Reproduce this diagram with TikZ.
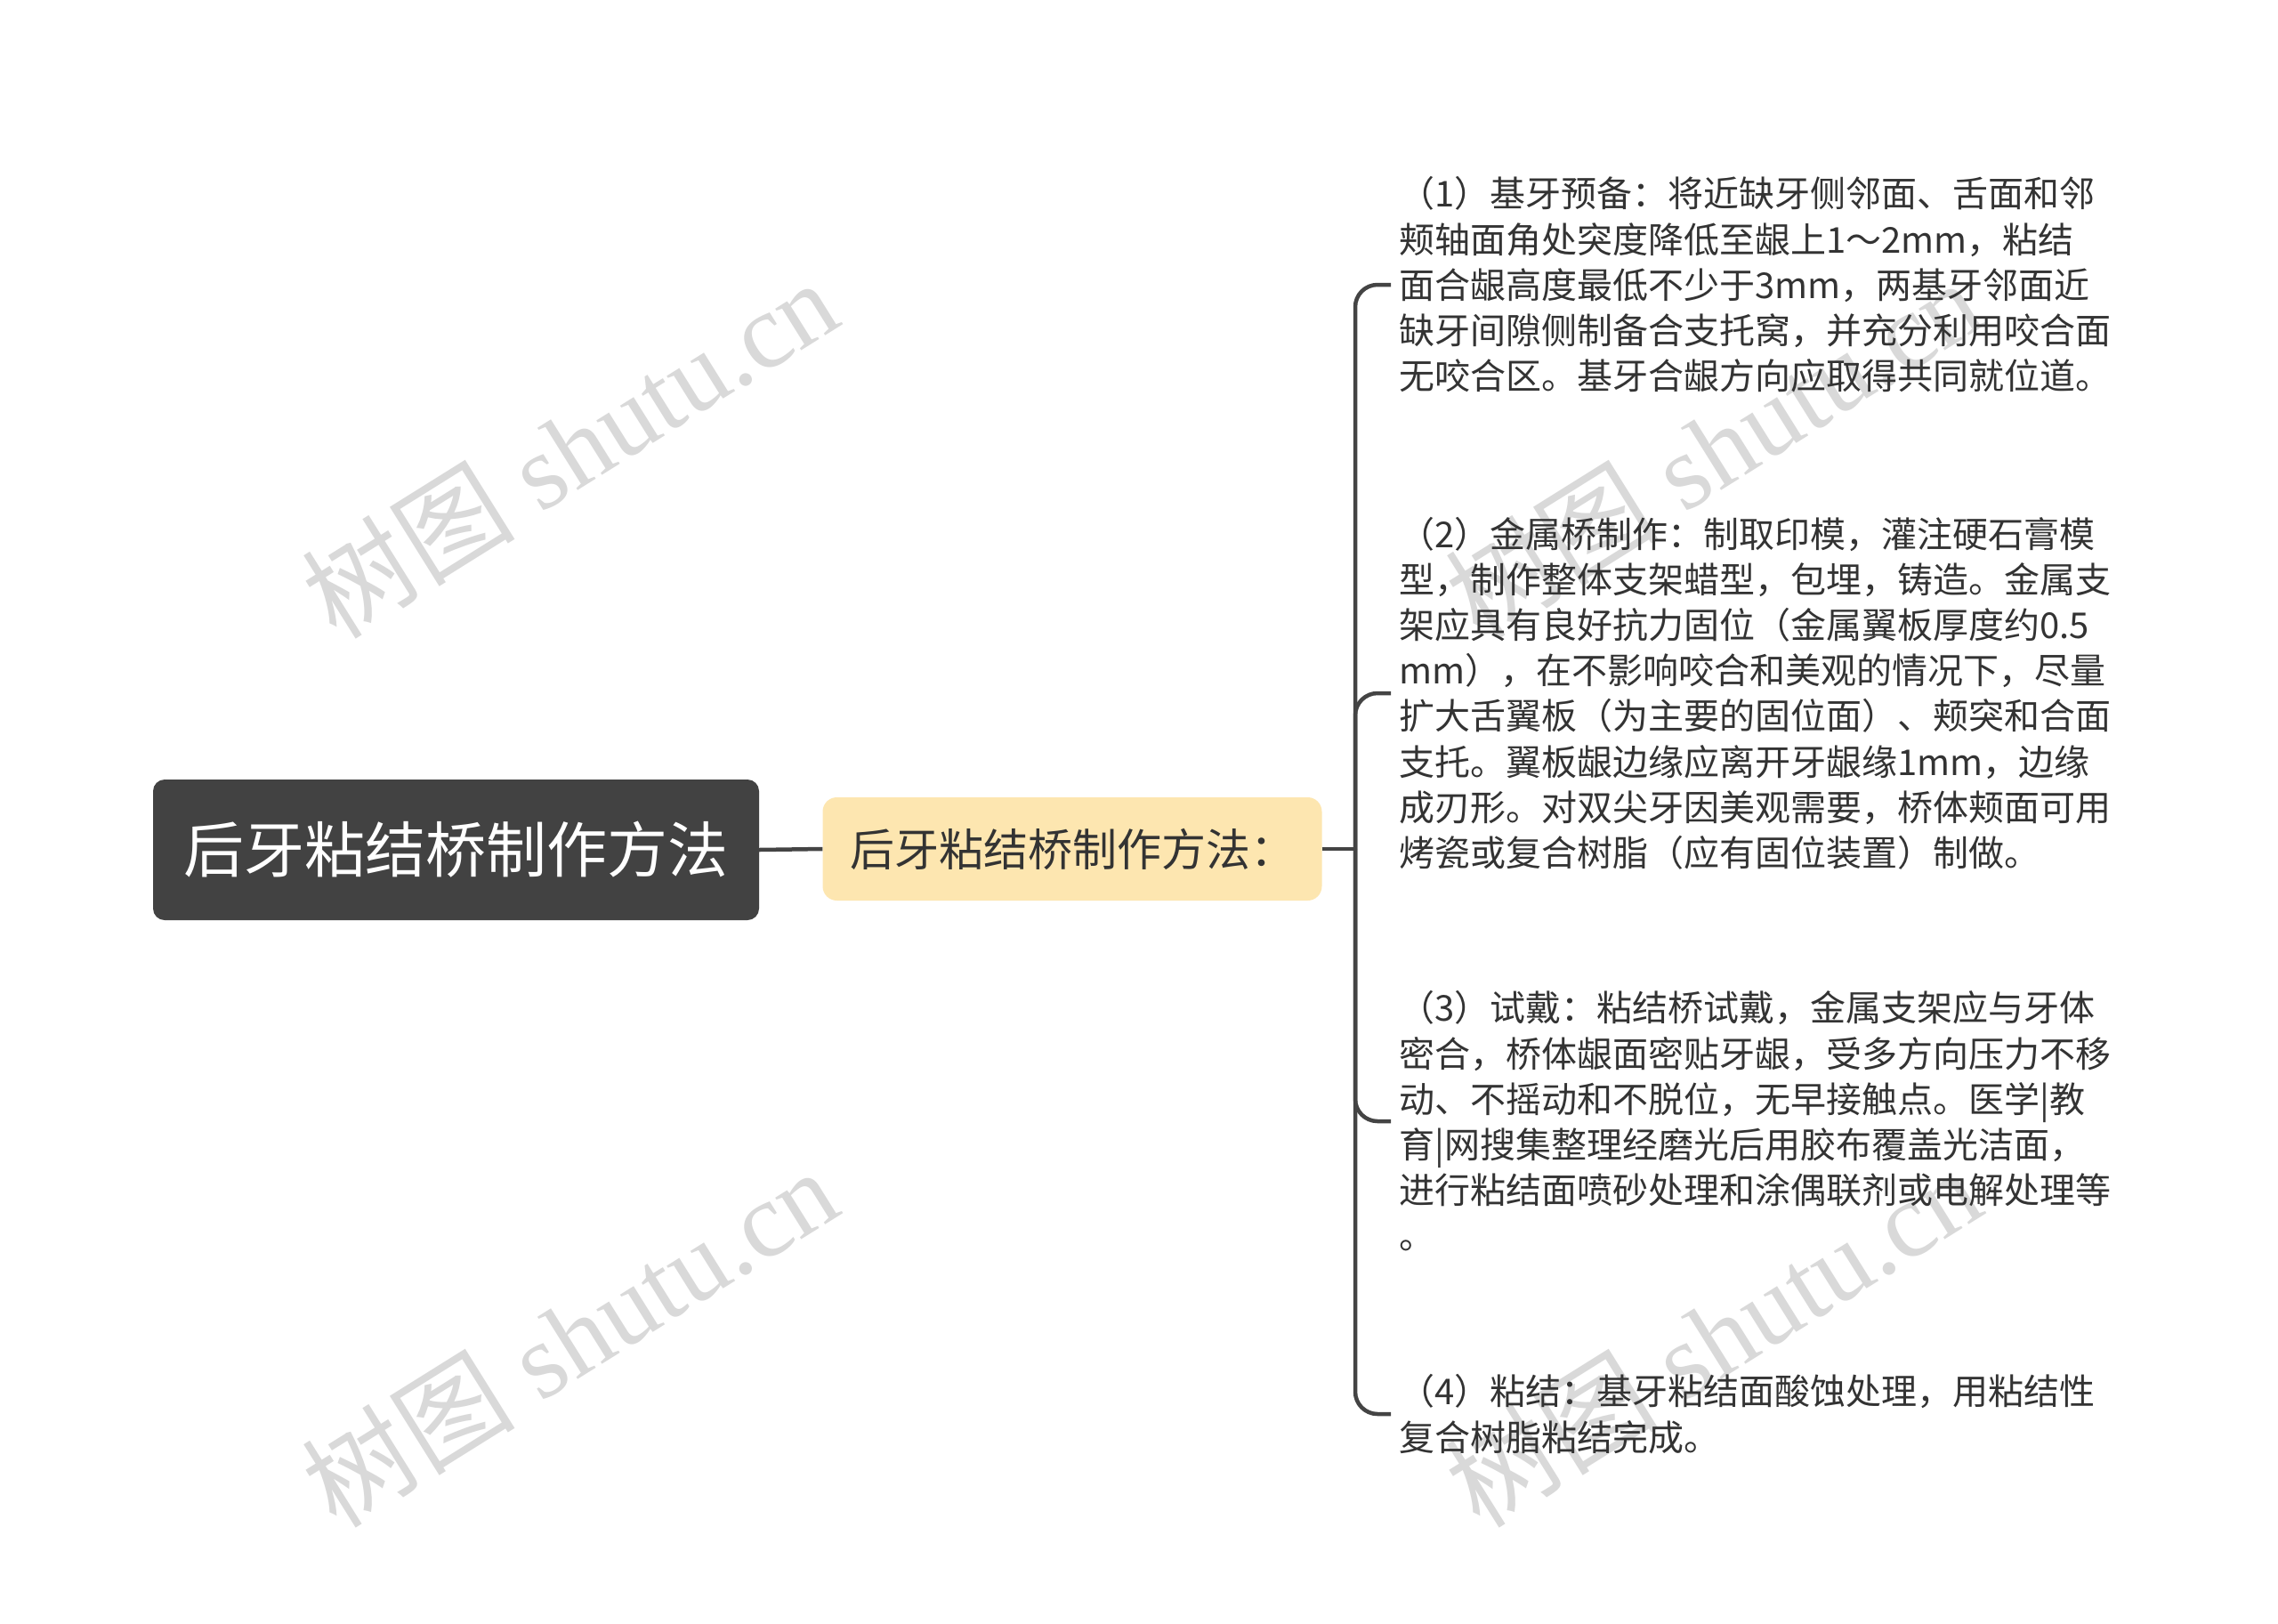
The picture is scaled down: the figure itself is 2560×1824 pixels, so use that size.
\documentclass[tikz,border=0pt]{standalone}
\usepackage{fontspec}
\setmainfont{Liberation Serif}
\newfontfamily\cjk{Noto Sans CJK SC}
\definecolor{rootc}{HTML}{424242}
\definecolor{subc}{HTML}{FDE6B0}
\definecolor{linec}{HTML}{444444}
\definecolor{txtc}{HTML}{333333}
\definecolor{wmc}{HTML}{D9D9D9}
\tikzset{
  rootbox/.style={fill=rootc, rounded corners=13pt, minimum width=681pt, minimum height=158pt,
    text=white, inner sep=0pt, font=\cjk\fontsize{68pt}{80pt}\selectfont},
  subbox/.style={fill=subc, rounded corners=16pt, minimum width=561pt, minimum height=116pt,
    text=txtc, inner sep=0pt, font=\cjk\fontsize{50pt}{60pt}\selectfont},
  leaf/.style={anchor=west, align=left, inner xsep=9pt, inner ysep=0pt, text=txtc,
    font=\cjk\fontsize{40pt}{51.2pt}\selectfont},
  conn/.style={draw=linec, line width=4.5pt},
  wm/.style={text=wmc, rotate=32, inner sep=0pt, font=\fontsize{120pt}{125pt}\selectfont}
}
\begin{document}
\begin{tikzpicture}[x=1pt,y=-1pt]
\useasboundingbox (0,0) rectangle (2560,1824);
\fill[white] (0,0) rectangle (2560,1824);
% watermarks
\node[wm] (wm1) at (640,503) {{\cjk 树图} shutu.cn};
\node[wm] (wm2) at (640,1502) {{\cjk 树图} shutu.cn};
\node[wm] (wm3) at (1925,503) {{\cjk 树图} shutu.cn};
\node[wm] (wm4) at (1925,1502) {{\cjk 树图} shutu.cn};
% nodes
\node[rootbox] (root) at (512.5,955) {后牙粘结桥制作方法};
\node[subbox] (sub) at (1205,954) {后牙粘结桥制作方法：};
\coordinate (j) at (1523,954);
\node[leaf] (l1) at (1563,320) {（1）基牙预备：将近缺牙侧邻面、舌面和邻\\颊轴面角处突度降低至龈上1～2mm，粘结\\面合龈高度最低不少于3mm，两基牙邻面近\\缺牙间隙侧制备合支托窝，并充分利用咬合面\\无咬合区。基牙合龈方向应取得共同就位道。};
\node[leaf] (l2) at (1563,779) {（2）金属桥制作：制取印模，灌注硬石膏模\\型，制作整体支架蜡型，包埋，铸造。金属支\\架应具有良好抗力固位（金属翼板厚度约0.5\\mm），在不影响咬合和美观的情况下，尽量\\扩大舌翼板（为主要的固位面）、颊突和合面\\支托。翼板龈边缘应离开牙龈缘1mm，边缘\\成刃形。对双尖牙因美观需要，桥体颊面可用\\烤瓷或复合树脂（应有固位装置）制做。};
\node[leaf] (l3) at (1563,1260) {（3）试戴：粘结桥试戴，金属支架应与牙体\\密合，桥体龈面密贴牙龈，受多方向压力不移\\动、不摇动和不脱位，无早接触点。医学|教\\育|网搜集整理经磨光后用胶布覆盖光洁面，\\进行粘结面喷砂处理和涂偶联剂或电解处理等\\。};
\node[leaf] (l4) at (1563,1589) {（4）粘结：基牙粘结面酸蚀处理，用粘结性\\复合树脂粘结完成。};
% connectors
\draw[conn] (root.east) -- (sub.west);
\draw[conn] (sub.east) -- (j);
\draw[conn, rounded corners=25pt] (j) |- (l1.west);
\draw[conn, rounded corners=25pt] (j) |- (l2.west);
\draw[conn, rounded corners=25pt] (j) |- (l3.west);
\draw[conn, rounded corners=25pt] (j) |- (l4.west);
\end{tikzpicture}
\end{document}
